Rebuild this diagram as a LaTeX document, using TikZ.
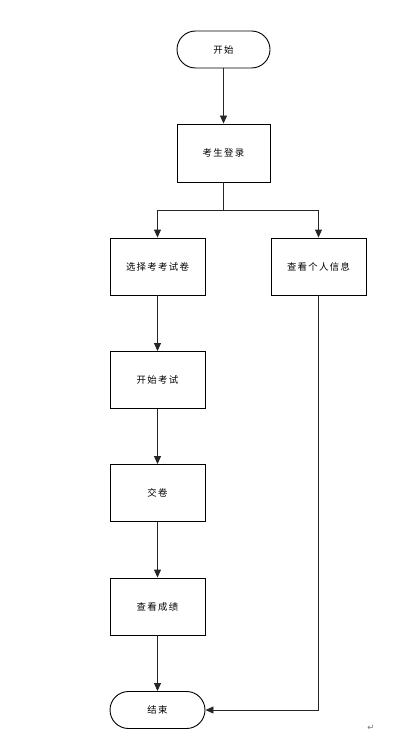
\documentclass[tikz,border=0pt]{standalone}
\usepackage{fontspec}
\setmainfont{Liberation Sans}
\newfontfamily\cjk[LetterSpace=14]{Noto Sans CJK SC}
\newfontfamily\symf{DejaVu Sans}
\usetikzlibrary{arrows.meta}
\begin{document}
\begin{tikzpicture}[x=1pt,y=-1pt,
  box/.style={draw=black,line width=0.9pt,rectangle,minimum width=95pt,minimum height=57pt,inner sep=0pt,font=\cjk\fontsize{9.4}{10}\selectfont},
  term/.style={box,minimum height=37pt,rounded corners=18.5pt},
  arr/.style={draw=black!85,line width=0.9pt,-{Triangle[length=8pt,width=7pt]}},
  ln/.style={draw=black!85,line width=0.9pt}]
\useasboundingbox (0,0) rectangle (404,741);
\node[term,minimum width=93pt] (start) at (223.5,49.5) {开始};
\node[box,minimum width=93pt,minimum height=58pt] (login) at (223.5,153) {考生登录};
\node[box] (select) at (157.5,266.5) {选择考考试卷};
\node[box] (info) at (318.5,266.5) {查看个人信息};
\node[box] (exam) at (157.5,380) {开始考试};
\node[box] (submit) at (157.5,493) {交卷};
\node[box] (score) at (157.5,606.5) {查看成绩};
\node[term] (end) at (157.5,710) {结束};
\coordinate (split) at (223.5,210);
\node[font=\symf\fontsize{8.5}{9}\selectfont,text=black!55] (mark) at (371,728) {↵};
\draw[arr] (start) -- (login);
\draw[ln] (login) -- (split);
\draw[arr] (split) -| (select);
\draw[arr] (split) -| (info);
\draw[arr] (select) -- (exam);
\draw[arr] (exam) -- (submit);
\draw[arr] (submit) -- (score);
\draw[arr] (score) -- (end);
\draw[arr] (info.south) |- (end.east);
\end{tikzpicture}
\end{document}
